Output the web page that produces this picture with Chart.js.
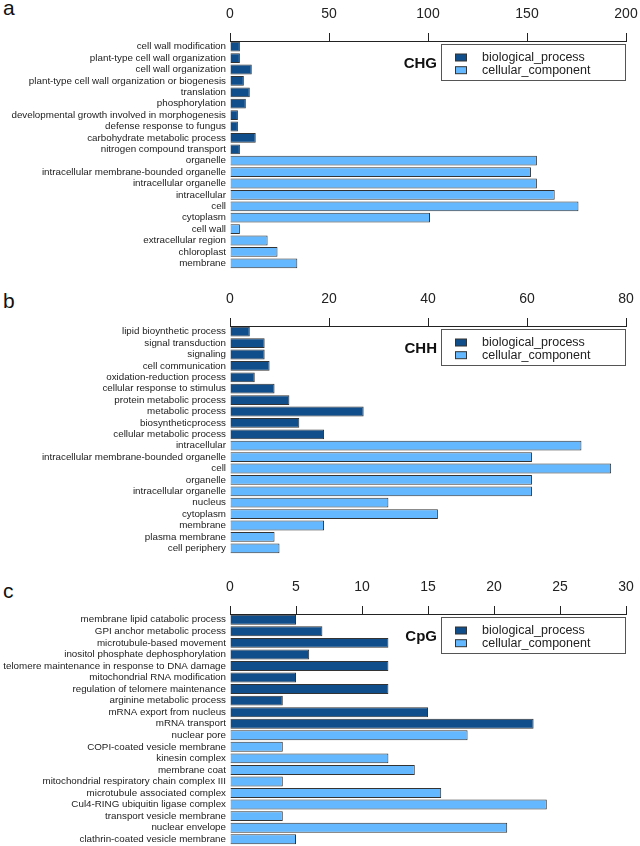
<!DOCTYPE html>
<html>
<head>
<meta charset="utf-8">
<script src="https://cdn.jsdelivr.net/npm/chart.js@4.4.1/dist/chart.umd.min.js"></script>
<style>
  html, body { margin:0; padding:0; background:#fff; }
  body { width:640px; height:846px; position:relative; overflow:hidden; font-family:"Liberation Sans", Arial, sans-serif; }
  canvas { position:absolute; left:0; }
  .lbl { position:absolute; left:3px; font-size:21px; color:#111; font-family:"Liberation Sans", Arial, sans-serif; line-height:1; }
</style>
</head>
<body>
<div class="lbl" style="top:-3px">a</div>
<div class="lbl" style="top:290px">b</div>
<div class="lbl" style="top:580px">c</div>
<canvas id="ca" width="640" height="269" style="top:0px"></canvas>
<canvas id="cb" width="640" height="270" style="top:284px"></canvas>
<canvas id="cc" width="640" height="273" style="top:572px"></canvas>
<script>
// ---------- Panel a (CHG) ----------
const bpLabelsA = ["cell wall modification","plant-type cell wall organization","cell wall organization","plant-type cell wall organization or biogenesis","translation","phosphorylation","developmental growth involved in morphogenesis","defense response to fungus","carbohydrate metabolic process","nitrogen compound transport"];
const bpValuesA = [5,5,11,7,10,8,4,4,13,5];
const ccLabelsA = ["organelle","intracellular membrane-bounded organelle","intracellular organelle","intracellular","cell","cytoplasm","cell wall","extracellular region","chloroplast","membrane"];
const ccValuesA = [155,152,155,164,176,101,5,19,24,34];
const ticksA = [0,50,100,150,200];

// ---------- Panel b (CHH) ----------
const bpLabelsB = ["lipid bioynthetic process","signal transduction","signaling","cell communication","oxidation-reduction process","cellular response to stimulus","protein metabolic process","metabolic process","biosyntheticprocess","cellular metabolic process"];
const bpValuesB = [4,7,7,8,5,9,12,27,14,19];
const ccLabelsB = ["intracellular","intracellular membrane-bounded organelle","cell","organelle","intracellular organelle","nucleus","cytoplasm","membrane","plasma membrane","cell periphery"];
const ccValuesB = [71,61,77,61,61,32,42,19,9,10];
const ticksB = [0,20,40,60,80];

// ---------- Panel c (CpG) ----------
const bpLabelsC = ["membrane lipid catabolic process","GPI anchor metabolic process","microtubule-based movement","inositol phosphate dephosphorylation","telomere maintenance in response to DNA damage","mitochondrial RNA modification","regulation of telomere maintenance","arginine metabolic process","mRNA export from nucleus","mRNA transport"];
const bpValuesC = [5,7,12,6,12,5,12,4,15,23];
const ccLabelsC = ["nuclear pore","COPI-coated vesicle membrane","kinesin complex","membrane coat","mitochondrial respiratory chain complex III","microtubule associated complex","Cul4-RING ubiquitin ligase complex","transport vesicle membrane","nuclear envelope","clathrin-coated vesicle membrane"];
const ccValuesC = [18,4,12,14,4,16,24,4,21,5];
const ticksC = [0,5,10,15,20,25,30];

const seriesNames = ["biological_process","cellular_component"];
const FONT = '"Liberation Sans", Arial, sans-serif';
const DARK = '#104E8B', LIGHT = '#63B8FF', EDGE = '#333333';

const legendPlugin = {
  id: 'boxLegend',
  afterDraw(chart, args, opts) {
    const ctx = chart.ctx, ca = chart.chartArea;
    const bx = ca.right - 185, by = ca.top + 3, bw = 185, bh = 37;
    ctx.save();
    ctx.fillStyle = '#fff';
    ctx.fillRect(bx, by, bw, bh);
    ctx.strokeStyle = '#555';
    ctx.lineWidth = 1;
    ctx.strokeRect(bx + 0.5, by + 0.5, bw - 1, bh - 1);
    chart.data.datasets.forEach((ds, i) => {
      const cy = by + 13.5 + i * 12.7;
      ctx.fillStyle = ds.backgroundColor;
      ctx.fillRect(bx + 14, cy - 3.5, 12, 7);
      ctx.strokeStyle = EDGE;
      ctx.strokeRect(bx + 14.5, cy - 3.5, 11, 7);
      ctx.fillStyle = '#222';
      ctx.font = '12.5px ' + FONT;
      ctx.textBaseline = 'middle';
      ctx.textAlign = 'left';
      ctx.fillText(ds.label, bx + 41, cy);
    });
    ctx.font = 'bold 15px ' + FONT;
    ctx.textAlign = 'right';
    ctx.textBaseline = 'middle';
    ctx.fillStyle = '#111';
    ctx.fillText(opts.title, bx - 4, by + 19.5);
    ctx.restore();
  }
};

function makeChart(id, bpL, bpV, ccL, ccV, ticks, title, axisH) {
  const labels = bpL.concat(ccL);
  const d1 = bpV.concat(ccL.map(() => null));
  const d2 = bpL.map(() => null).concat(ccV);
  const step = ticks[1] - ticks[0];
  return new Chart(document.getElementById(id), {
    type: 'bar',
    data: {
      labels: labels,
      datasets: [
        { label: seriesNames[0], data: d1, backgroundColor: DARK, borderColor: EDGE, borderWidth: 1, grouped: false, barPercentage: 0.86, categoryPercentage: 1 },
        { label: seriesNames[1], data: d2, backgroundColor: LIGHT, borderColor: EDGE, borderWidth: 1, grouped: false, barPercentage: 0.86, categoryPercentage: 1 }
      ]
    },
    options: {
      indexAxis: 'y',
      responsive: false,
      animation: false,
      layout: { padding: { left: 0, right: 14, top: 0, bottom: 0 } },
      plugins: { legend: { display: false }, tooltip: { enabled: false }, boxLegend: { title: title } },
      scales: {
        x: {
          position: 'top',
          min: ticks[0], max: ticks[ticks.length - 1],
          ticks: { stepSize: step, color: '#222', font: { size: 14, family: FONT }, padding: 10, maxRotation: 0 },
          grid: { drawOnChartArea: false, drawTicks: true, tickLength: 8, color: '#222', lineWidth: 1 },
          border: { display: true, color: '#222', width: 1 },
          afterFit(scale) { scale.height = axisH; scale.paddingLeft = 0; scale.paddingRight = 0; }
        },
        y: {
          ticks: { color: '#222', font: { size: 9.8, family: FONT }, padding: 4, autoSkip: false },
          grid: { display: false, drawTicks: false },
          border: { display: false },
          afterFit(scale) { scale.width = 230; scale.paddingTop = 0; scale.paddingBottom = 0; }
        }
      }
    },
    plugins: [legendPlugin]
  });
}

makeChart('ca', bpLabelsA, bpValuesA, ccLabelsA, ccValuesA, ticksA, 'CHG', 41);
makeChart('cb', bpLabelsB, bpValuesB, ccLabelsB, ccValuesB, ticksB, 'CHH', 42);
makeChart('cc', bpLabelsC, bpValuesC, ccLabelsC, ccValuesC, ticksC, 'CpG', 42);
</script>
</body>
</html>
